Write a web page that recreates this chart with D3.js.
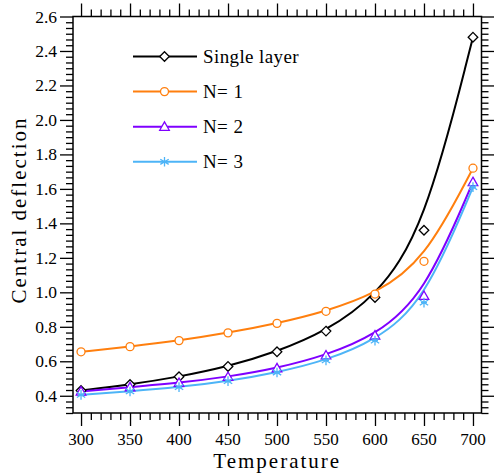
<!DOCTYPE html>
<html>
<head>
<meta charset="utf-8">
<script src="https://cdn.jsdelivr.net/npm/d3@7"></script>
<style>
  body { margin: 0; background: #fff; }
  text { font-family: "Liberation Serif", "Times New Roman", serif; fill: #000; }
</style>
</head>
<body>
<div id="chart"></div>
<script>
// data
var temps = [300, 350, 400, 450, 500, 550, 600, 650, 700];
var singleLayer = [0.43, 0.465, 0.51, 0.57, 0.655, 0.775, 0.97, 1.36, 2.48];
var n1 = [0.655, 0.685, 0.72, 0.765, 0.82, 0.89, 0.99, 1.18, 1.72];
var n2 = [0.425, 0.45, 0.475, 0.51, 0.56, 0.635, 0.75, 0.98, 1.64];
var n3 = [0.405, 0.425, 0.45, 0.485, 0.535, 0.605, 0.72, 0.94, 1.61];
var seriesNames = ["Single layer", "N= 1", "N= 2", "N= 3"];
var xTicks = [300, 350, 400, 450, 500, 550, 600, 650, 700];
var yTicks = [0.4, 0.6, 0.8, 1.0, 1.2, 1.4, 1.6, 1.8, 2.0, 2.2, 2.4, 2.6];

var svgWidth = 494, svgHeight = 475;
var plotLeft = 73, plotRight = 481.5, plotTop = 16.5, plotBottom = 413;

var svg = d3.select("#chart").append("svg")
    .attr("width", svgWidth)
    .attr("height", svgHeight);

var x = d3.scaleLinear().domain([291.8, 708.7]).range([plotLeft, plotRight]);
var y = d3.scaleLinear().domain([0.3, 2.6]).range([plotBottom, plotTop]);

var series = [
    {name: seriesNames[0], values: singleLayer, color: "#000000", symbol: "diamond"},
    {name: seriesNames[1], values: n1, color: "#FF7F0E", symbol: "circle"},
    {name: seriesNames[2], values: n2, color: "#7F00FF", symbol: "triangle"},
    {name: seriesNames[3], values: n3, color: "#4DB4F7", symbol: "star"}
];

// minor tick values
var xMinor = d3.range(290, 711, 10).filter(function(v) { return v >= 291.8 && v <= 708.7 && v % 50 !== 0; });
var yMinor = d3.range(0, 70).map(function(i) { return 0.3 + i / 30; })
    .filter(function(v) { return Math.abs(v * 5 - Math.round(v * 5)) > 1e-6; });

function styleAxis(g) {
    g.select(".domain").remove();
    g.selectAll("line").attr("stroke", "#000").attr("stroke-width", 1.3);
    g.selectAll("text").remove();
}

// bottom
svg.append("g").attr("transform", "translate(0," + plotBottom + ")")
    .call(d3.axisBottom(x).tickValues(xTicks).tickSize(13)).call(styleAxis);
svg.append("g").attr("transform", "translate(0," + plotBottom + ")")
    .call(d3.axisBottom(x).tickValues(xMinor).tickSize(7)).call(styleAxis);
// top
svg.append("g").attr("transform", "translate(0," + plotTop + ")")
    .call(d3.axisTop(x).tickValues(xTicks).tickSize(13)).call(styleAxis);
svg.append("g").attr("transform", "translate(0," + plotTop + ")")
    .call(d3.axisTop(x).tickValues(xMinor).tickSize(7)).call(styleAxis);
// left
svg.append("g").attr("transform", "translate(" + plotLeft + ",0)")
    .call(d3.axisLeft(y).tickValues(yTicks).tickSize(13)).call(styleAxis);
svg.append("g").attr("transform", "translate(" + plotLeft + ",0)")
    .call(d3.axisLeft(y).tickValues(yMinor).tickSize(7)).call(styleAxis);
// right
svg.append("g").attr("transform", "translate(" + plotRight + ",0)")
    .call(d3.axisRight(y).tickValues(yTicks).tickSize(13)).call(styleAxis);
svg.append("g").attr("transform", "translate(" + plotRight + ",0)")
    .call(d3.axisRight(y).tickValues(yMinor).tickSize(7)).call(styleAxis);

// frame
svg.append("rect")
    .attr("x", plotLeft).attr("y", plotTop)
    .attr("width", plotRight - plotLeft).attr("height", plotBottom - plotTop)
    .attr("fill", "none").attr("stroke", "#000").attr("stroke-width", 1.5);

// tick labels
svg.selectAll(".xlab").data(xTicks).enter().append("text")
    .attr("class", "xlab")
    .attr("x", function(d) { return x(d); })
    .attr("y", 445)
    .attr("text-anchor", "middle")
    .style("font-size", "17px")
    .text(function(d) { return d; });

svg.selectAll(".ylab").data(yTicks).enter().append("text")
    .attr("class", "ylab")
    .attr("x", 57)
    .attr("y", function(d) { return y(d) + 6; })
    .attr("text-anchor", "end")
    .style("font-size", "17.5px")
    .text(function(d) { return d3.format(".1f")(d); });

// axis titles
svg.append("text")
    .attr("x", (plotLeft + plotRight) / 2)
    .attr("y", 468)
    .attr("text-anchor", "middle")
    .style("font-size", "21px")
    .style("letter-spacing", "2px")
    .text("Temperature");

svg.append("text")
    .attr("transform", "translate(25.5,210) rotate(-90)")
    .attr("text-anchor", "middle")
    .style("font-size", "21px")
    .style("letter-spacing", "2px")
    .text("Central deflection");

// curves
var line = d3.line()
    .x(function(d, i) { return x(temps[i]); })
    .y(function(d) { return y(d); })
    .curve(d3.curveBasis);

svg.selectAll(".curve").data(series).enter().append("path")
    .attr("class", "curve")
    .attr("d", function(s) { return line(s.values); })
    .attr("fill", "none")
    .attr("stroke", function(s) { return s.color; })
    .attr("stroke-width", 2);

function drawMarker(g, symbol, color) {
    if (symbol === "diamond") {
        g.append("path").attr("d", "M0,-4.8L4.8,0L0,4.8L-4.8,0Z")
            .attr("fill", "#fff").attr("stroke", color).attr("stroke-width", 1.3);
    } else if (symbol === "circle") {
        g.append("circle").attr("r", 4)
            .attr("fill", "#fff").attr("stroke", color).attr("stroke-width", 1.3);
    } else if (symbol === "triangle") {
        g.append("path").attr("d", "M0,-4.8L4.8,3.6L-4.8,3.6Z")
            .attr("fill", "#fff").attr("stroke", color).attr("stroke-width", 1.3);
    } else {
        g.append("path").attr("d", "M0,-4.8L0,4.8M-4.2,-2.6L4.2,2.6M-4.2,2.6L4.2,-2.6M-3,0L3,0")
            .attr("fill", "none").attr("stroke", color).attr("stroke-width", 1.3);
    }
}

series.forEach(function(s) {
    s.values.forEach(function(v, i) {
        var g = svg.append("g").attr("transform", "translate(" + x(temps[i]) + "," + y(v) + ")");
        drawMarker(g, s.symbol, s.color);
    });
});

// legend
var legend = svg.selectAll(".legend").data(series).enter().append("g")
    .attr("class", "legend")
    .attr("transform", function(s, i) { return "translate(0," + (56.5 + i * 35.1) + ")"; });

legend.append("line")
    .attr("x1", 133).attr("x2", 197)
    .attr("stroke", function(s) { return s.color; })
    .attr("stroke-width", 2);

legend.each(function(s) {
    var g = d3.select(this).append("g").attr("transform", "translate(164.5,0)");
    drawMarker(g, s.symbol, s.color);
});

legend.append("text")
    .attr("x", 203)
    .attr("y", 6.5)
    .style("font-size", "19px")
    .style("letter-spacing", "0.4px")
    .text(function(s) { return s.name; });
</script>
</body>
</html>
